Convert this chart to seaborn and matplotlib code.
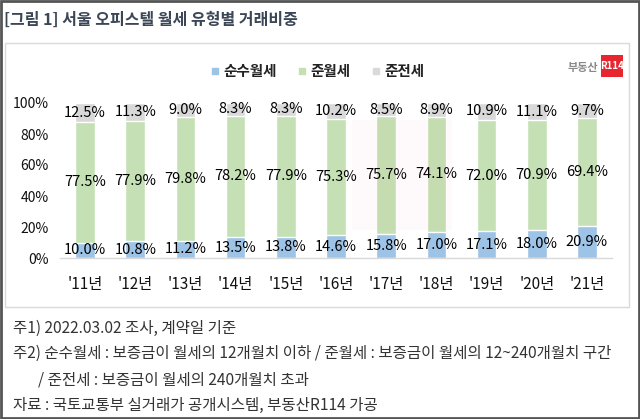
import matplotlib
matplotlib.use("Agg")
import matplotlib.pyplot as plt
from matplotlib.patches import Rectangle
from matplotlib.lines import Line2D
import seaborn as sns
import pandas as pd
import numpy as np

# ---- data ----
years = ["'11년", "'12년", "'13년", "'14년", "'15년", "'16년", "'17년", "'18년", "'19년", "'20년", "'21년"]
pure_monthly = [10.0, 10.8, 11.2, 13.5, 13.8, 14.6, 15.8, 17.0, 17.1, 18.0, 20.9]   # 순수월세
semi_monthly = [77.5, 77.9, 79.8, 78.2, 77.9, 75.3, 75.7, 74.1, 72.0, 70.9, 69.4]   # 준월세
semi_jeonse = [12.5, 11.3, 9.0, 8.3, 8.3, 10.2, 8.5, 8.9, 10.9, 11.1, 9.7]          # 준전세
series_names = ["순수월세", "준월세", "준전세"]
ytick_vals = [0, 20, 40, 60, 80, 100]

title = "[그림 1] 서울 오피스텔 월세 유형별 거래비중"
notes = [
    "주1) 2022.03.02 조사, 계약일 기준",
    "주2) 순수월세 : 보증금이 월세의 12개월치 이하 / 준월세 : 보증금이 월세의 12~240개월치 구간",
    "/ 준전세 : 보증금이 월세의 240개월치 초과",
    "자료 : 국토교통부 실거래가 공개시스템, 부동산R114 가공",
]

colors = ["#9DC3E6", "#C5E0B4", "#D9D9D9"]

sns.set_theme(style="white")
plt.rcParams["font.family"] = ["Noto Sans CJK KR", "DejaVu Sans"]

df = pd.DataFrame({"year": years, "pure": pure_monthly, "semi_m": semi_monthly, "semi_j": semi_jeonse})
df["c1"] = df["pure"]
df["c2"] = df["pure"] + df["semi_m"]
df["c3"] = df["c2"] + df["semi_j"]

fig = plt.figure(figsize=(6.4, 4.19), dpi=100)
fig.patch.set_facecolor("white")
W, H = 640, 419

# very faint watermark block
fig.add_artist(Rectangle((352 / W, 1 - 230 / H), 100 / W, 110 / H, transform=fig.transFigure,
                         facecolor="#E8262F", edgecolor="none", alpha=0.025))

ax = fig.add_axes([60 / W, 1 - 258 / H, 552 / W, 155 / H])
bw = 0.39
for col, c in zip(["c3", "c2", "c1"], colors[::-1]):
    sns.barplot(data=df, x="year", y=col, color=c, width=bw, saturation=1,
                errorbar=None, ax=ax, zorder=2)

# centered value labels
for i in range(len(years)):
    segs = [(0, df["pure"][i]), (df["c1"][i], df["semi_m"][i]), (df["c2"][i], df["semi_j"][i])]
    for base, v in segs:
        ax.text(i, base + v / 2, f"{v:.1f}%", ha="center", va="center",
                fontsize=10.5, color="black", zorder=5)

ax.set_ylim(0, 100)
ax.set_xlim(-0.5, len(years) - 0.5)
ax.set_yticks(ytick_vals)
ax.set_yticklabels([f"{t}%" for t in ytick_vals], fontsize=10, color="#111")
ax.tick_params(axis="y", length=0, pad=8)
ax.tick_params(axis="x", length=0, pad=13, labelsize=11, labelcolor="#111")
for lab in ax.get_xticklabels():
    lab.set_fontweight("medium")
ax.set_xlabel("")
ax.set_ylabel("")
for s in ["top", "right", "left"]:
    ax.spines[s].set_visible(False)
ax.spines["bottom"].set_color("#D9D9D9")
ax.spines["bottom"].set_linewidth(1)
ax.set_facecolor("none")

# legend
handles = [Line2D([0], [0], marker="s", linestyle="", markersize=5,
                  markerfacecolor=c, markeredgecolor=c) for c in colors]
fig.legend(handles, series_names, loc="center", bbox_to_anchor=(318 / W, 1 - 71 / H),
           ncol=3, frameon=False, handlelength=0.5, handletextpad=0.3, columnspacing=1.5,
           prop={"size": 10.5, "weight": "bold"}, labelcolor="#222")

# title
fig.text(4 / W, 1 - 20 / H, title, fontsize=11.5, fontweight="bold", color="#3b4656", va="center", ha="left")

# frames
fig.add_artist(Rectangle((5 / W, 1 - 307 / H), 624 / W, 264 / H, transform=fig.transFigure,
                         fill=False, edgecolor="#DADADA", lw=1))
fig.add_artist(Rectangle((0.75 / W, 0.75 / H), 638.5 / W, 417.5 / H, transform=fig.transFigure,
                         fill=False, edgecolor="#555555", lw=2))

# logo
fig.add_artist(Rectangle((601 / W, 1 - 77 / H), 22 / W, 22 / H, transform=fig.transFigure,
                         facecolor="#E8262F", edgecolor="none"))
fig.text(612 / W, 1 - 66 / H, "R114", color="white", fontsize=7, fontweight="bold", ha="center", va="center")
fig.text(598 / W, 1 - 67 / H, "부동산", color="#8a8a8a", fontsize=8, fontweight="bold", ha="right", va="center")

# notes
note_fs = 11.2
fig.text(13 / W, 1 - 328 / H, notes[0], fontsize=note_fs, color="#333", va="center")
fig.text(13 / W, 1 - 353 / H, notes[1], fontsize=note_fs, color="#333", va="center")
fig.text(38 / W, 1 - 380 / H, notes[2], fontsize=note_fs, color="#333", va="center")
fig.text(13 / W, 1 - 405 / H, notes[3], fontsize=note_fs, color="#333", va="center")

fig.savefig("out.png", dpi=100, facecolor="white")
